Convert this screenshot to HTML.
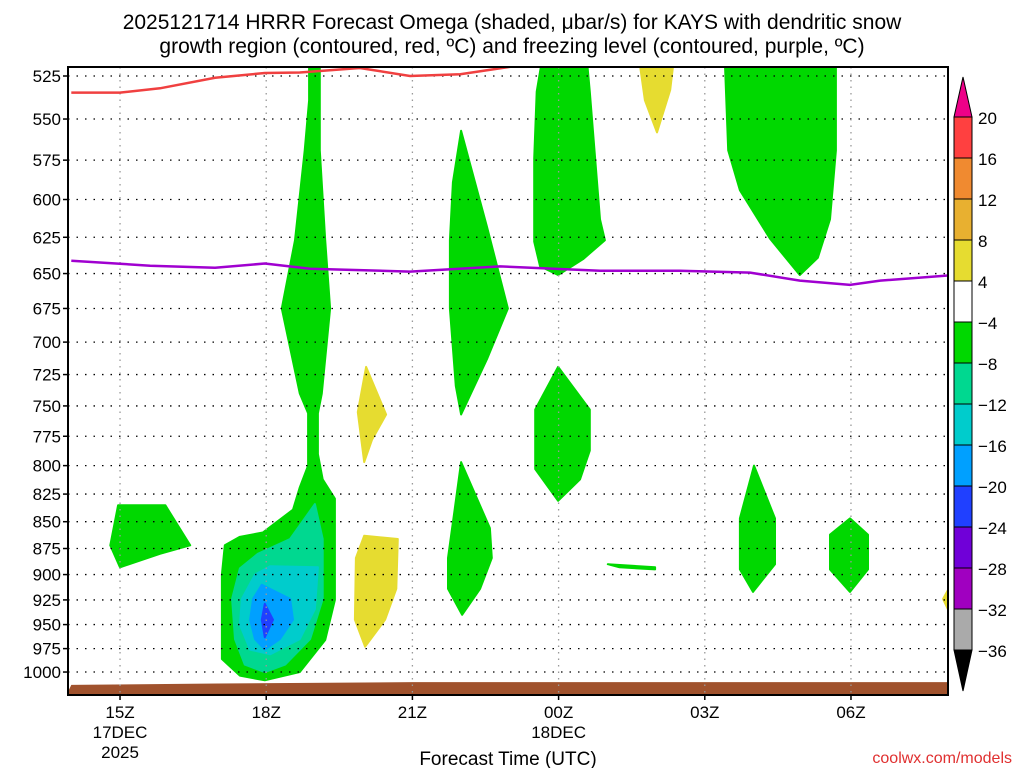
<!DOCTYPE html>
<html><head><meta charset="utf-8">
<style>
html,body{margin:0;padding:0;background:#fff;}
svg{display:block;font-family:"Liberation Sans",sans-serif;}
</style></head>
<body>
<svg id="chart" width="1024" height="768" viewBox="0 0 1024 768">
<text x="512" y="29" text-anchor="middle" font-size="21" fill="#000">2025121714 HRRR Forecast Omega (shaded, μbar/s) for KAYS with dendritic snow</text>
<text x="512" y="53" text-anchor="middle" font-size="21" fill="#000">growth region (contoured, red, ºC) and freezing level (contoured, purple, ºC)</text>
<defs><clipPath id="plotclip"><rect x="68" y="67" width="880" height="628"/></clipPath></defs>
<g id="shades" clip-path="url(#plotclip)"></g>
<g id="grid"></g>
<g id="lines" clip-path="url(#plotclip)"></g>
<rect x="68" y="67" width="880" height="628" fill="none" stroke="#000" stroke-width="2"/>
<g id="axes"></g>
<g id="cbar"></g>
<text x="508" y="765" text-anchor="middle" font-size="19" fill="#000">Forecast Time (UTC)</text>
<text x="1012" y="763" text-anchor="end" font-size="16" fill="#e03030">coolwx.com/models</text>
</svg>
<script>
// ---- data ----
const pressureTicks = [525,550,575,600,625,650,675,700,725,750,775,800,825,850,875,900,925,950,975,1000];
const timeTickHours = [1,4,7,10,13,16];
const timeTickLabels = [["15Z","17DEC","2025"],["18Z"],["21Z"],["00Z","18DEC"],["03Z"],["06Z"]];
const cbarLevels = [20,16,12,8,4,-4,-8,-12,-16,-20,-24,-28,-32,-36];
const cbarColors = ["#ff4040","#f08a30","#e8b030","#e6dc30","#ffffff","#00d800","#00d890","#00cccc","#00a0ff","#2040ff","#7000d8","#a000c0","#aaaaaa"];
const greenA = [[4.88,516],[4.88,539],[4.79,569],[4.59,627],[4.32,675],[4.69,740],[4.86,756],[4.86,800],[4.69,819],[4.55,839],[3.93,860],[3.46,864],[3.15,872],[3.09,900],[3.09,986],[3.46,1004],[3.97,1009],[4.69,1000],[5.21,966],[5.41,925],[5.41,829],[5.16,812],[5.06,790],[5.06,756],[5.14,740],[5.31,675],[5.21,627],[5.10,569],[5.10,516]];
const tealA = [[5.00,834],[5.16,866],[5.16,924],[4.90,965],[4.39,992],[3.97,1000],[3.56,992],[3.36,965],[3.30,924],[3.46,894],[3.83,880],[4.49,866],[4.79,847]];
const cyanA = [[5.06,893],[5.00,934],[4.69,965],[4.08,981],[3.67,976],[3.46,950],[3.50,924],[3.77,900],[4.08,892]];
const lblueA = [[3.91,910],[4.49,924],[4.55,945],[4.28,965],[3.97,976],[3.77,965],[3.67,945],[3.73,924]];
const dblueA = [[3.97,929],[4.14,945],[3.97,963],[3.91,945]];
const greenB = [[0.96,835],[1.93,835],[2.44,872],[1.82,880],[1.00,893],[0.80,872]];
const yellowC = [[6.05,719],[6.46,757],[6.17,778],[6.01,797],[5.88,755]];
const yellowD = [[6.01,863],[6.70,866],[6.67,914],[6.44,945],[6.03,973],[5.82,945],[5.84,884]];
const greenE = [[8.00,557],[8.53,618],[8.96,675],[8.53,713],[8.00,757],[7.89,734],[7.77,675],[7.77,627],[7.83,589]];
const greenF = [[8.00,797],[8.59,856],[8.63,884],[8.39,914],[8.02,940],[7.73,914],[7.73,884],[7.87,838]];
const greenG = [[9.66,516],[9.55,534],[9.50,574],[9.50,628],[9.62,645],[9.99,651],[10.5,640],[10.95,627],[10.85,613],[10.64,534],[10.58,516]];
const greenH = [[9.99,719],[10.64,753],[10.64,787],[10.44,812],[9.99,831],[9.52,803],[9.52,753]];
const greenI = [[11.01,890],[11.98,893],[11.98,895],[11.25,893]];
const yellowJ = [[11.67,519],[12.35,519],[12.29,533],[12.02,558],[11.77,539]];
const greenK = [[13.41,516],[13.48,569],[13.72,594],[14.34,626],[14.95,651],[15.32,639],[15.57,613],[15.69,569],[15.69,516]];
const greenL = [[14.01,800],[14.44,847],[14.44,890],[13.99,917],[13.72,895],[13.72,847]];
const greenM = [[15.98,847],[16.35,862],[16.35,895],[15.98,917],[15.57,895],[15.57,862]];
const yellowN = [[18.2,897],[17.89,924],[18.2,957]];
const dgzHours = [0,1,1.82,2.95,3.97,4.69,5.92,6.95,7.98,9.2];
const dgzPres = [534.5,534.5,532,526,523.3,523,520.5,525,524,519];
const frzHours = [0,1.62,2.95,3.97,4.90,6.95,8.80,10.85,12.49,13.93,14.95,15.98,16.6,18];
const frzPres = [641,644.5,646,643,646.6,648.6,645,648,648,649.3,655,658,655,651.4];
const sfcHours = [0,3,7,10,14,18];
const sfcPres = [1014,1012.5,1011,1011,1011,1011];

// ---- axes ----
const NS="http://www.w3.org/2000/svg";
function x(h){return 71.3+48.73*h;}
function y(p){return 76+925*Math.log(p/525);}
function mk(tag,attrs,parent){const e=document.createElementNS(NS,tag);for(const k in attrs)e.setAttribute(k,attrs[k]);parent.appendChild(e);return e;}
const shades=document.getElementById('shades'),grid=document.getElementById('grid'),lines=document.getElementById('lines'),axes=document.getElementById('axes'),cbar=document.getElementById('cbar');
function poly(pts,color,name){
  const e=mk('polygon',{points:pts.map(q=>x(q[0]).toFixed(1)+','+y(q[1]).toFixed(1)).join(' '),fill:color,stroke:color,'stroke-width':2,'stroke-linejoin':'round'},shades);
  
  
}
poly(greenA,"#00d800","omega-green-a");
poly(tealA,"#00d890","omega-teal-a");
poly(cyanA,"#00cccc","omega-cyan-a");
poly(lblueA,"#00a0ff","omega-lightblue-a");
poly(dblueA,"#2040ff","omega-darkblue-a");
poly(greenB,"#00d800","omega-green-b");
poly(yellowC,"#e6dc30","omega-yellow-c");
poly(yellowD,"#e6dc30","omega-yellow-d");
poly(greenE,"#00d800","omega-green-e");
poly(greenF,"#00d800","omega-green-f");
poly(greenG,"#00d800","omega-green-g");
poly(greenH,"#00d800","omega-green-h");
poly(greenI,"#00d800","omega-green-i");
poly(yellowJ,"#e6dc30","omega-yellow-j");
poly(greenK,"#00d800","omega-green-k");
poly(greenL,"#00d800","omega-green-l");
poly(greenM,"#00d800","omega-green-m");
poly(yellowN,"#e6dc30","omega-yellow-n");
// terrain
{
  let pts=sfcHours.map((h,i)=>x(h).toFixed(1)+','+y(sfcPres[i]).toFixed(1));
  pts.push('950,696','66,696');
  const e=mk('polygon',{points:pts.join(' '),fill:"#a0522d"},shades);
  
  
}
// grid
pressureTicks.forEach(p=>{
  const g=mk('line',{x1:68,x2:948,y1:y(p),y2:y(p),stroke:"#000","stroke-width":1.3,"stroke-dasharray":"1.5,7"},grid);
  
  
  const t=mk('line',{x1:63,x2:68,y1:y(p),y2:y(p),stroke:"#000","stroke-width":1.5},axes);
  
  
  const l=mk('text',{x:61,y:y(p)+6,'text-anchor':'end','font-size':17,fill:'#000'},axes);
  l.textContent=p;
  
  
});
timeTickHours.forEach((h,i)=>{
  const g=mk('line',{x1:x(h),x2:x(h),y1:67,y2:695,stroke:"#999","stroke-width":1.3,"stroke-dasharray":"1.5,5"},grid);
  
  
  const t=mk('line',{x1:x(h),x2:x(h),y1:695,y2:700,stroke:"#000","stroke-width":1.5},axes);
  
  
  timeTickLabels[i].forEach((s,j)=>{
    const l=mk('text',{x:x(h),y:718+j*20,'text-anchor':'middle','font-size':17,fill:'#000'},axes);
    l.textContent=s;
    
    
  });
});
// contour lines
function line(hs,ps,color,name){
  const e=mk('polyline',{points:hs.map((h,i)=>x(h).toFixed(1)+','+y(ps[i]).toFixed(1)).join(' '),fill:'none',stroke:color,'stroke-width':2.5},lines);
  
  
}
line(dgzHours,dgzPres,"#f04040","dgz-contour");
line(frzHours,frzPres,"#a000d0","freezing-level-contour");
// colorbar
const cbTop=117, cbStep=41, cbX=954, cbW=18;
cbarColors.forEach((c,i)=>{
  const r=mk('rect',{x:cbX,y:cbTop+i*cbStep,width:cbW,height:cbStep,fill:c,stroke:'#000','stroke-width':1},cbar);
  
  
});
cbarLevels.forEach((v,i)=>{
  const t=mk('text',{x:978,y:cbTop+i*cbStep+7,'font-size':17,fill:'#000'},cbar);
  t.textContent=(v<0?'\u2212'+(-v):v);
  
  
});
{
  const up=mk('polygon',{points:`${cbX},${cbTop} ${cbX+cbW},${cbTop} ${cbX+cbW/2},77`,fill:'#ee0088',stroke:'#000','stroke-width':1},cbar);
  
  
  const yb=cbTop+cbarColors.length*cbStep;
  const dn=mk('polygon',{points:`${cbX},${yb} ${cbX+cbW},${yb} ${cbX+cbW/2},691`,fill:'#000',stroke:'#000','stroke-width':1},cbar);
  
  
}
</script>
</body></html>
